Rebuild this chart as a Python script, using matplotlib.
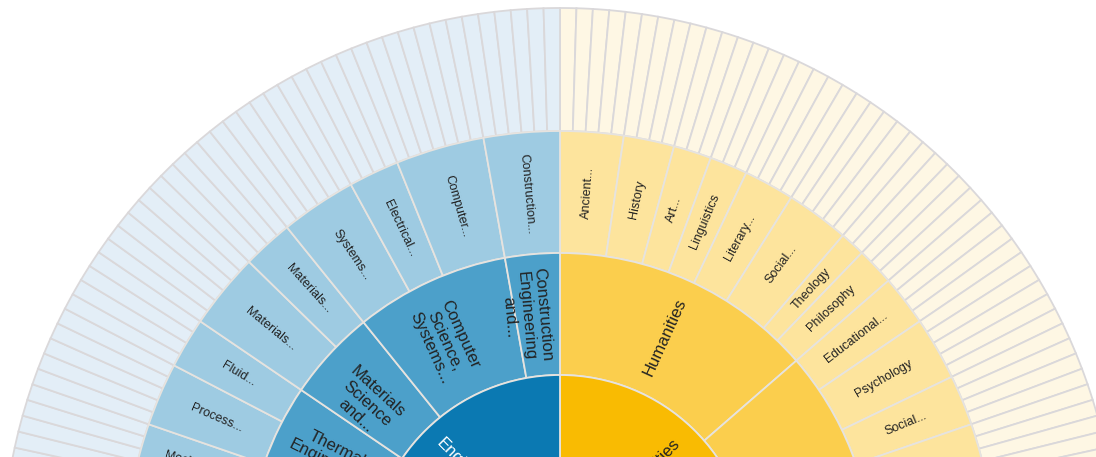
import numpy as np
import matplotlib.pyplot as plt
from matplotlib.patches import Wedge

plt.rcParams['font.family'] = ['Liberation Sans', 'DejaVu Sans']

# clockwise from 12 o'clock; every leaf of the outer ring counts 1
TOTAL_LEAVES = 213

level1_names = ["Humanities\nand...", "Engineering\nand..."]

level2_names = ["Humanities", "", "",
                "Thermal\nEngineering\nE...", "Materials\nScience\nand...",
                "Computer\nScience,\nSystems...", "Construction\nEngineering\nand..."]
level2_parent = [0, 0, 1, 1, 1, 1, 1]

level3_names = ["Ancient...", "History", "Art...", "Linguistics", "Literary...",
                "Social...", "Theology", "Philosophy",
                "Educational...", "Psychology", "Social...", "", "",
                "", "Mechanical...", "Process...", "Fluid...", "Materials...",
                "Materials...", "Systems...", "Electrical...", "Computer...",
                "Construction..."]
level3_parent = [0, 0, 0, 0, 0, 0, 0, 0,
                 1, 1, 1, 1, 1,
                 2, 2, 3, 3, 4, 4, 5, 5, 5, 6]
level3_leaves = [5, 4, 3, 3, 4, 5, 2, 3,
                 4, 5, 4, 5, 5,
                 7, 4, 5, 4, 6, 4, 6, 4, 7, 6]

# colours per level (inner -> outer) for each top group
palettes = [["#f9bb02", "#fbce4d", "#fde49d", "#fef7e4"],
            ["#0b79b2", "#4ca0ca", "#9ecbe2", "#e3eef7"]]
text_colors = [["#222222", "#222222", "#222222"],
               ["white", "#222222", "#222222"]]

radii = [69, 191, 313, 435, 558]
edge = "#e6e3df"
edge_outer = "#dad8da"

fig = plt.figure(figsize=(10.96, 4.57), dpi=100)
ax = fig.add_axes([0, 0, 1, 1])
ax.set_xlim(-560, 536)
ax.set_ylim(109, 566)
ax.set_aspect('equal')
ax.axis('off')

unit = 360.0 / TOTAL_LEAVES
n_hum = sum(v for v, p in zip(level3_leaves, level3_parent) if level2_parent[p] == 0)
n_eng = sum(level3_leaves) - n_hum
gap = TOTAL_LEAVES - n_hum - n_eng
group_start = [0, n_hum + gap]


def label(theta, r, text, size, color):
    if not text:
        return
    deg = theta % 360
    rot = deg - 180 if 90 < deg < 270 else deg
    t = np.deg2rad(deg)
    ur = np.deg2rad(rot)
    dvec = np.array([np.sin(ur), -np.cos(ur)])
    lines = text.split('\n')
    n = len(lines)
    L = size * 100 / 72 * 1.0
    for i, line in enumerate(lines):
        off = (i - (n - 1) / 2) * L + (n - 1) * L * 0.35
        x = r * np.cos(t) + off * dvec[0]
        y = r * np.sin(t) + off * dvec[1]
        ax.text(x, y, line, rotation=rot, rotation_mode='anchor',
                ha='center', va='center', fontsize=size, color=color,
                multialignment='center', zorder=5)


def arc(k0, k1, level, g):
    a0 = 90 - k0 * unit
    a1 = 90 - k1 * unit
    ec = edge_outer if level == 3 else edge
    w = Wedge((0, 0), radii[level + 1], a1, a0, width=radii[level + 1] - radii[level],
              facecolor=palettes[g][level], edgecolor=ec, linewidth=1.3)
    ax.add_patch(w)
    return (a0 + a1) / 2


# walk leaves clockwise
level2_range = {}
level1_range = {}
pos = {0: group_start[0], 1: group_start[1]}
for name, n, p in zip(level3_names, level3_leaves, level3_parent):
    g = level2_parent[p]
    k0 = pos[g]
    k1 = k0 + n
    pos[g] = k1
    lo, hi = level2_range.get(p, (k0, k1))
    level2_range[p] = (min(lo, k0), max(hi, k1))
    lo, hi = level1_range.get(g, (k0, k1))
    level1_range[g] = (min(lo, k0), max(hi, k1))
    for k in range(k0, k1):
        arc(k, k + 1, 3, g)
    mid = arc(k0, k1, 2, g)
    label(mid, (radii[2] + radii[3]) / 2, name, 9, text_colors[g][2])

for p, (k0, k1) in level2_range.items():
    g = level2_parent[p]
    mid = arc(k0, k1, 1, g)
    label(mid, (radii[1] + radii[2]) / 2, level2_names[p], 12, text_colors[g][1])

for g, (k0, k1) in level1_range.items():
    mid = arc(k0, k1, 0, g)
    label(mid, (radii[0] + radii[1]) / 2, level1_names[g], 12, text_colors[g][0])

fig.savefig("out.png", dpi=100, facecolor="white")
